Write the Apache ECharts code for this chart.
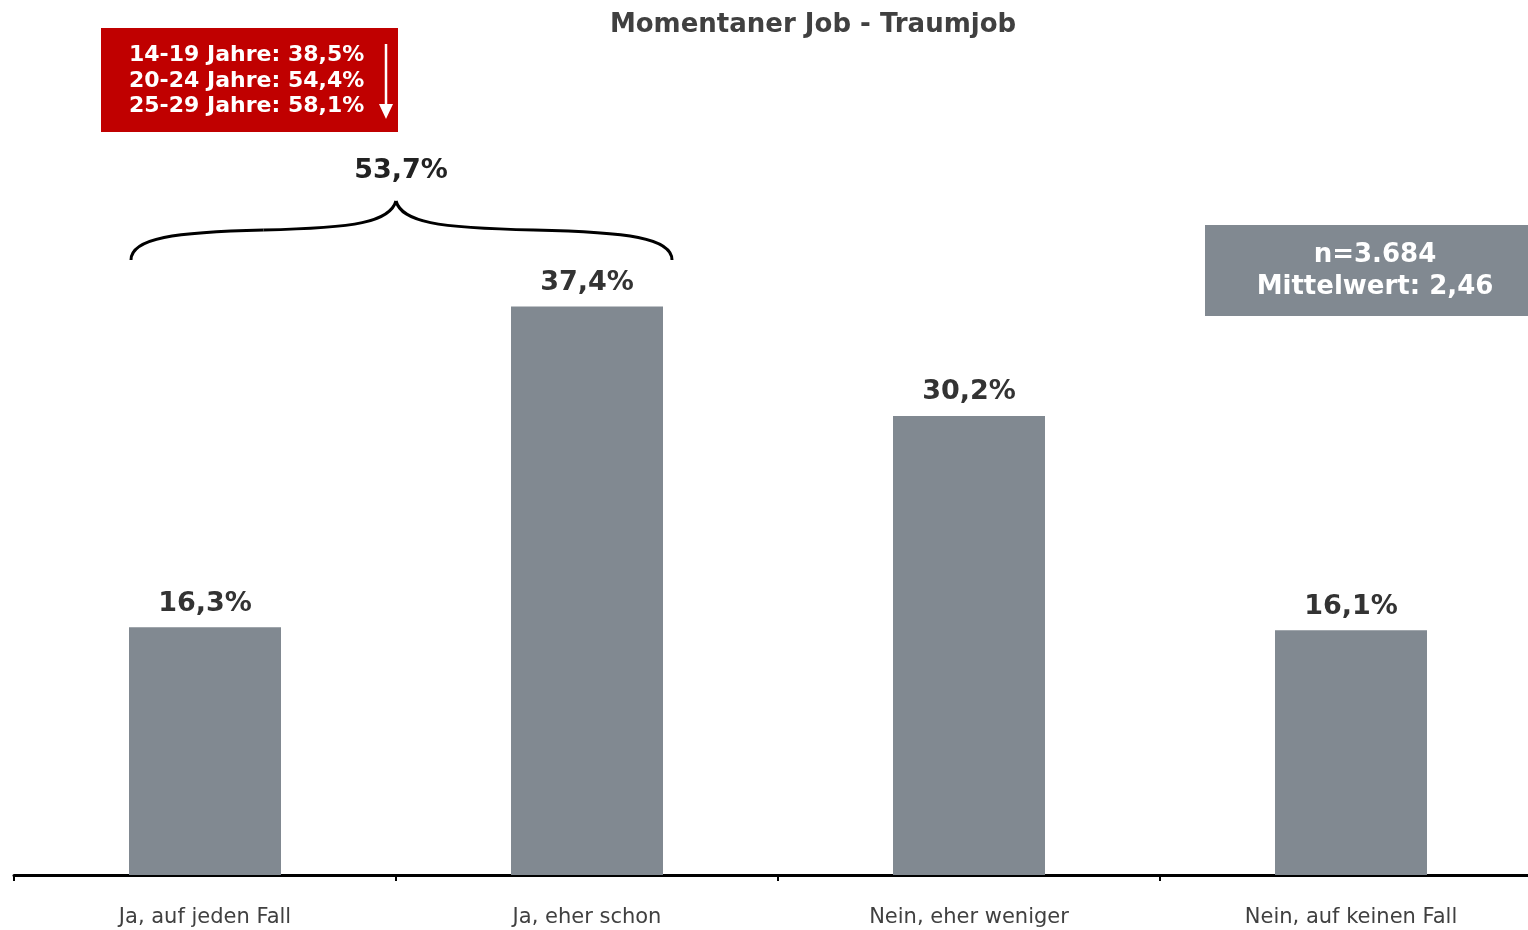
<!DOCTYPE html>
<html>
<head>
<meta charset="utf-8">
<script src="https://cdn.jsdelivr.net/npm/echarts@6/dist/echarts.min.js"></script>
<style>
  html, body { margin: 0; padding: 0; background: #fff; }
  #main { width: 1528px; height: 930px; }
</style>
</head>
<body>
<div id="main"></div>
<script>
// daten
var kategorien = ['Ja, auf jeden Fall', 'Ja, eher schon', 'Nein, eher weniger', 'Nein, auf keinen Fall'];
var anteile = [16.3, 37.4, 30.2, 16.1];
var altersgruppen = ['14-19 Jahre: 38,5%', '20-24 Jahre: 54,4%', '25-29 Jahre: 58,1%'];
var summeJa = '53,7%';
var infoText = ['n=3.684', 'Mittelwert: 2,46'];

var schrift = '"DejaVu Sans", Verdana, sans-serif';
var myChart = echarts.init(document.getElementById('main'));

// geschweifte klammer ueber den ersten zwei balken
function klammer(x1, xm, x2, yBase, yTop) {
  var segs = [
    [x1, yBase, x1, yBase - 22, x1 + 44, yBase - 28, x1 + (xm - x1) / 2, yBase - 30],
    [x1 + (xm - x1) / 2, yBase - 30, xm - 40, yBase - 32, xm - 6, yBase - 38, xm, yTop],
    [xm, yTop, xm + 6, yBase - 38, xm + 40, yBase - 32, xm + (x2 - xm) / 2, yBase - 30],
    [xm + (x2 - xm) / 2, yBase - 30, x2 - 44, yBase - 28, x2, yBase - 22, x2, yBase]
  ];
  return segs.map(function (s) {
    return {
      type: 'bezierCurve',
      shape: { x1: s[0], y1: s[1], cpx1: s[2], cpy1: s[3], cpx2: s[4], cpy2: s[5], x2: s[6], y2: s[7] },
      style: { fill: 'none', stroke: '#000', lineWidth: 3 }
    };
  });
}

var grafik = [
  // roter kasten
  { type: 'rect', shape: { x: 101, y: 28, width: 297, height: 104 }, style: { fill: '#C00000' } },
  {
    type: 'text', x: 129, y: 43,
    style: {
      text: altersgruppen.join('\n'),
      fill: '#fff', font: 'bold 22px ' + schrift, lineHeight: 25.5,
      align: 'left', verticalAlign: 'top'
    }
  },
  { type: 'line', shape: { x1: 386, y1: 44, x2: 386, y2: 108 }, style: { stroke: '#fff', lineWidth: 2.5 } },
  { type: 'polygon', shape: { points: [[379, 104], [393, 104], [386, 119]] }, style: { fill: '#fff' } },
  {
    type: 'text', x: 401, y: 171,
    style: {
      text: summeJa, fill: '#222', font: 'bold 27px ' + schrift,
      align: 'center', verticalAlign: 'middle'
    }
  },
  // grauer kasten
  { type: 'rect', shape: { x: 1205, y: 225, width: 323, height: 91 }, style: { fill: '#818991' } },
  {
    type: 'text', x: 1375, y: 239,
    style: {
      text: infoText.join('\n'), fill: '#fff', font: 'bold 26px ' + schrift,
      align: 'center', verticalAlign: 'top', lineHeight: 32
    }
  }
].concat(klammer(131, 396, 672, 260, 201));

myChart.setOption({
  animation: false,
  title: {
    text: 'Momentaner Job - Traumjob',
    left: 808,
    top: 7,
    textAlign: 'center',
    textStyle: { fontFamily: schrift, fontSize: 26, fontWeight: 'bold', color: '#404040' }
  },
  grid: { left: 14, right: -14, top: 267, bottom: 55, outerBoundsMode: 'none', containLabel: false },
  xAxis: {
    type: 'category',
    data: kategorien,
    axisLine: { lineStyle: { color: '#000', width: 3 } },
    axisTick: { show: true, length: 6, lineStyle: { color: '#000', width: 2 } },
    axisLabel: { fontFamily: schrift, fontSize: 21, color: '#404040', margin: 32 }
  },
  yAxis: {
    type: 'value',
    min: 0,
    max: 40,
    show: false,
    splitLine: { show: false }
  },
  series: [
    {
      type: 'bar',
      data: anteile,
      barWidth: 152,
      itemStyle: { color: '#818991' },
      label: {
        show: true,
        position: 'top',
        distance: 10,
        fontFamily: schrift,
        fontSize: 27,
        fontWeight: 'bold',
        color: '#333',
        formatter: function (p) { return p.value.toFixed(1).replace('.', ',') + '%'; }
      }
    }
  ],
  graphic: grafik
});
</script>
</body>
</html>
